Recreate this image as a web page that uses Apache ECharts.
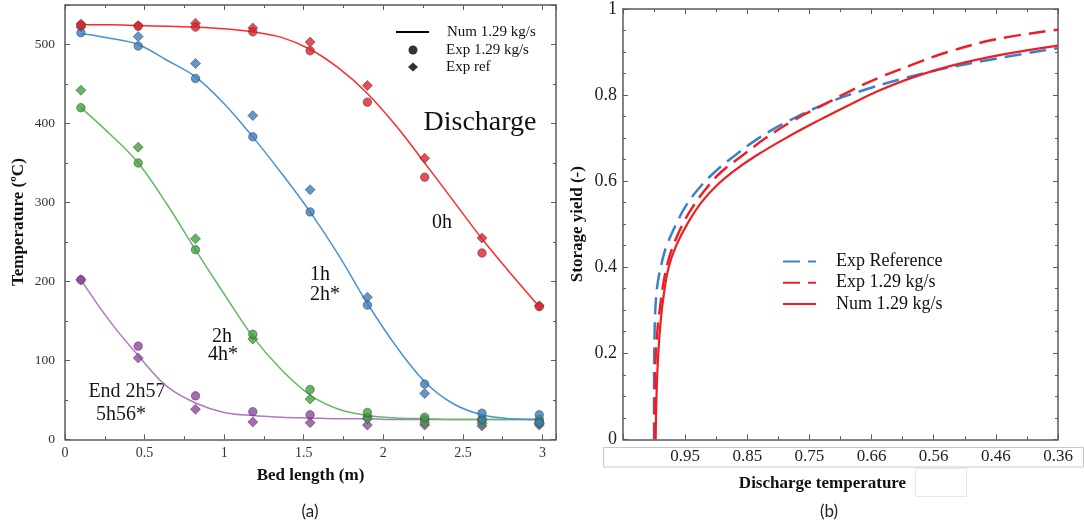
<!DOCTYPE html>
<html><head><meta charset="utf-8">
<script src="https://cdn.jsdelivr.net/npm/echarts@6/dist/echarts.min.js"></script>
<style>html,body{margin:0;padding:0;background:#fff}#c{width:1084px;height:528px}</style>
</head><body><div id="c"></div>
<script>
// ---------- (a) temperature profiles ----------
const bedX = [0.1, 0.46, 0.82, 1.18, 1.54, 1.9, 2.26, 2.62, 2.98];
const exp0h  = [524, 523, 522, 516, 492, 427, 332, 236, 168];
const ref0h  = [526, 524, 527, 521, 503, 448, 356, 255, 169];
const exp1h  = [515, 498, 457, 383, 288, 170, 70, 33, 31];
const ref1h  = [522, 510, 476, 410, 316, 180, 58, 25, 21];
const exp2h  = [420, 350, 240, 133, 63, 34, 28, 26, 25];
const ref2h  = [442, 370, 254, 127, 51, 26, 21, 20, 20];
const expEnd = [202, 118, 55, 35, 31, 28, 25, 23, 23];
const refEnd = [202, 103, 38, 22, 21, 18, 18, 17, 18];

const numX   = [0.1, 0.28, 0.46, 0.64, 0.82, 1.0, 1.18, 1.36, 1.54, 1.72, 1.9, 2.08, 2.26, 2.44, 2.62, 2.8, 2.98];
const num0h  = [525, 525, 524, 523, 522, 520, 516, 509, 494, 470, 438, 397, 350, 302, 254, 210, 168];
const num1h  = [514, 508, 500, 480, 459, 425, 383, 337, 288, 233, 172, 118, 73, 45, 31, 26, 25];
const num2h  = [420, 387, 350, 298, 240, 184, 130, 88, 56, 38, 30, 27, 26, 25, 25, 25, 25];
const numEnd = [202, 150, 106, 67, 46, 34, 30, 28, 27, 26, 26, 25, 25, 25, 25, 25, 25];

const bedTicks  = ['0', '0.5', '1', '1.5', '2', '2.5', '3'];
const tempTicks = ['0', '100', '200', '300', '400', '500'];

// ---------- (b) storage yield (x = tick position 0..7 along the axis) ----------
const yTicksB = ['0', '0.2', '0.4', '0.6', '0.8', '1'];
const dischargeTicks = ['', '0.95', '0.85', '0.75', '0.66', '0.56', '0.46', '0.36'];
const refPos   = [0.499, 0.500, 0.509, 0.523, 0.555, 0.623, 0.703, 0.856, 1.001, 1.202, 1.468, 1.806, 2.184, 2.667, 3.262, 3.842, 4.550, 5.451, 7.0];
const refYield = [0, 0.15, 0.25, 0.31, 0.36, 0.41, 0.45, 0.50, 0.54, 0.58, 0.62, 0.66, 0.70, 0.74, 0.78, 0.81, 0.84, 0.87, 0.909];
const expPos   = [0.510, 0.517, 0.552, 0.599, 0.647, 0.719, 0.808, 0.961, 1.122, 1.323, 1.572, 1.926, 2.296, 2.730, 3.261, 3.663, 4.114, 4.645, 5.225, 6.014, 7.0];
const expYield = [0, 0.15, 0.25, 0.31, 0.36, 0.41, 0.45, 0.50, 0.54, 0.58, 0.62, 0.66, 0.70, 0.74, 0.78, 0.81, 0.84, 0.87, 0.90, 0.93, 0.952];
const numPos   = [0.526, 0.539, 0.568, 0.610, 0.660, 0.735, 0.856, 1.033, 1.258, 1.508, 1.798, 2.152, 2.619, 3.134, 3.681, 4.115, 4.645, 5.337, 6.141, 7.0];
const numYield = [0, 0.10, 0.20, 0.28, 0.34, 0.40, 0.45, 0.50, 0.55, 0.59, 0.625, 0.66, 0.70, 0.74, 0.78, 0.81, 0.84, 0.87, 0.895, 0.915];

const SERIF = "'Liberation Serif', 'Times New Roman', serif";
const zip = (xs, ys) => xs.map((x, i) => [x, ys[i]]);
const tickFmt = (arr, step) => v => {
  const i = Math.round(v / step);
  return Math.abs(v - i * step) < 1e-6 && i < arr.length ? arr[i] : '';
};

const axisCol = '#5a5a5a';
function axis(base, opts) {
  return Object.assign({
    type: 'value',
    splitLine: { show: false },
    minorSplitLine: { show: false },
    axisLine: { show: true, onZero: false, lineStyle: { color: axisCol, width: 1.5 } },
    axisTick: { show: true, inside: true, length: 5, lineStyle: { color: axisCol, width: 1 } },
  }, base, opts);
}
const noLabel = { axisLabel: { show: false } };

const chart = echarts.init(document.getElementById('c'));

const colors = {
  red:    { line: '#ff2b2b', mark: '#e0222a' },
  blue:   { line: '#4a92d2', mark: '#3a7dbe' },
  green:  { line: '#62bb60', mark: '#3fa23f' },
  purple: { line: '#b475c4', mark: '#8e46a0' },
};
const groups = [
  { c: colors.purple, num: numEnd, exp: expEnd, ref: refEnd },
  { c: colors.green,  num: num2h,  exp: exp2h,  ref: ref2h },
  { c: colors.blue,   num: num1h,  exp: exp1h,  ref: ref1h },
  { c: colors.red,    num: num0h,  exp: exp0h,  ref: ref0h },
];

const series = [];
groups.forEach(g => {
  series.push({ type: 'line', xAxisIndex: 0, yAxisIndex: 0, data: zip(numX, g.num), smooth: 0.35,
    symbol: 'none', silent: true, z: 2, lineStyle: { color: g.c.line, width: 1.5 } });
});
groups.forEach(g => {
  series.push({ type: 'scatter', xAxisIndex: 0, yAxisIndex: 0, data: zip(bedX, g.ref), symbol: 'diamond',
    symbolSize: 10, z: 3, itemStyle: { color: g.c.mark, borderColor: '#333', borderWidth: 0.6 } });
  series.push({ type: 'scatter', xAxisIndex: 0, yAxisIndex: 0, data: zip(bedX, g.exp), symbol: 'circle',
    symbolSize: 8.5, z: 3, itemStyle: { color: g.c.mark, borderColor: '#333', borderWidth: 0.6 } });
});
// legend-only entries for (a)
series.push({ name: 'a:Num 1.29 kg/s', type: 'line', xAxisIndex: 0, yAxisIndex: 0, data: [], symbol: 'none',
  lineStyle: { color: '#000', width: 1.5 }, itemStyle: { color: '#000' } });
series.push({ name: 'a:Exp 1.29 kg/s', type: 'scatter', xAxisIndex: 0, yAxisIndex: 0, data: [], symbol: 'circle',
  itemStyle: { color: '#000' } });
series.push({ name: 'a:Exp ref', type: 'scatter', xAxisIndex: 0, yAxisIndex: 0, data: [], symbol: 'diamond',
  itemStyle: { color: '#000' } });

// (b) curves
const BLUE = '#3b82c4', RED = '#ec1f27';
series.push({ name: 'b:Exp Reference', type: 'line', xAxisIndex: 2, yAxisIndex: 2, data: zip(refPos, refYield),
  smooth: 0.4, symbol: 'none', z: 2, lineStyle: { color: BLUE, width: 2.5, type: [17, 8] }, itemStyle: { color: BLUE } });
series.push({ name: 'b:Exp 1.29 kg/s', type: 'line', xAxisIndex: 2, yAxisIndex: 2, data: zip(expPos, expYield),
  smooth: 0.4, symbol: 'none', z: 3, lineStyle: { color: RED, width: 2.5, type: [17, 8] }, itemStyle: { color: RED } });
series.push({ name: 'b:Num 1.29 kg/s', type: 'line', xAxisIndex: 2, yAxisIndex: 2, data: zip(numPos, numYield),
  smooth: 0.4, symbol: 'none', z: 4, lineStyle: { color: RED, width: 2.2 }, itemStyle: { color: RED } });

const stripFmt = n => n.slice(2);

const mt = n => ({ show: true, splitNumber: n, length: 3, lineStyle: { color: axisCol } });
const xA = { min: 0, max: 3.085, interval: 0.5, minorTick: mt(2) };
const yA = { min: 0, max: 550, interval: 100, minorTick: mt(2) };
const xB = { min: 0, max: 7, interval: 1, minorTick: mt(2) };
const yB = { min: 0, max: 1, interval: 0.2, minorTick: mt(4) };

const legendText = size => ({ fontFamily: SERIF, fontSize: size, color: '#111' });

const option = {
  animation: false,
  backgroundColor: '#fff',
  grid: [
    { left: 65, top: 5, width: 491, height: 434.3 },
    { left: 623, top: 9, width: 435, height: 430.3 },
  ],
  xAxis: [
    axis(xA, { gridIndex: 0, position: 'bottom',
      name: 'Bed length (m)', nameLocation: 'middle', nameGap: 28,
      nameTextStyle: { fontFamily: SERIF, fontSize: 17, fontWeight: 'bold', color: '#111' },
      axisLabel: { show: true, fontFamily: SERIF, fontSize: 14, color: '#333', margin: 7,
        showMaxLabel: false, formatter: tickFmt(bedTicks, 0.5) } }),
    axis(xA, Object.assign({ gridIndex: 0, position: 'top' }, noLabel)),
    axis(xB, { gridIndex: 1, position: 'bottom',
      name: 'Discharge temperature', nameLocation: 'middle', nameGap: 36,
      nameTextStyle: { fontFamily: SERIF, fontSize: 17, fontWeight: 'bold', color: '#111', padding: [0, 36, 0, 0] },
      axisLabel: { show: true, fontFamily: SERIF, fontSize: 17, color: '#222', margin: 9,
        formatter: tickFmt(dischargeTicks, 1) } }),
    axis(xB, Object.assign({ gridIndex: 1, position: 'top' }, noLabel)),
  ],
  yAxis: [
    axis(yA, { gridIndex: 0, position: 'left',
      name: 'Temperature (ºC)', nameLocation: 'middle', nameGap: 38,
      nameTextStyle: { fontFamily: SERIF, fontSize: 17, fontWeight: 'bold', color: '#111' },
      axisLabel: { show: true, fontFamily: SERIF, fontSize: 13.5, color: '#333', margin: 10,
        showMaxLabel: false, formatter: tickFmt(tempTicks, 100) } }),
    axis(yA, Object.assign({ gridIndex: 0, position: 'right' }, noLabel)),
    axis(yB, { gridIndex: 1, position: 'left',
      name: 'Storage yield (-)', nameLocation: 'middle', nameGap: 37,
      nameTextStyle: { fontFamily: SERIF, fontSize: 17, fontWeight: 'bold', color: '#111' },
      axisLabel: { show: true, fontFamily: SERIF, fontSize: 18, color: '#222', margin: 6,
        formatter: tickFmt(yTicksB, 0.2) } }),
    axis(yB, Object.assign({ gridIndex: 1, position: 'right' }, noLabel)),
  ],
  legend: [
    { data: ['a:Num 1.29 kg/s'], left: 395, top: 24.5, padding: 0, itemWidth: 33, itemHeight: 14,
      itemStyle: { opacity: 0 }, formatter: stripFmt, selectedMode: false,
      textStyle: Object.assign(legendText(15), { padding: [0, 0, 0, 13] }) },
    { data: [{ name: 'a:Exp 1.29 kg/s', icon: 'circle' }, { name: 'a:Exp ref', icon: 'diamond' }],
      orient: 'vertical', left: 408, top: 42.5, padding: 0, itemWidth: 10, itemHeight: 9, itemGap: 2,
      formatter: stripFmt, selectedMode: false,
      textStyle: Object.assign(legendText(15), { padding: [0, 0, 0, 23] }) },
    { data: ['b:Exp Reference', 'b:Exp 1.29 kg/s', 'b:Num 1.29 kg/s'],
      orient: 'vertical', left: 782, top: 252.5, padding: 0, itemWidth: 33, itemHeight: 14, itemGap: 3.2,
      itemStyle: { opacity: 0 }, formatter: stripFmt, selectedMode: false,
      textStyle: Object.assign(legendText(18), { padding: [0, 0, 0, 15] }) },
  ],
  graphic: [
    { type: 'text', x: 480, y: 123, style: { text: 'Discharge', font: '28px ' + SERIF, fill: '#111', align: 'center', verticalAlign: 'middle' } },
    { type: 'text', x: 442, y: 223, style: { text: '0h', font: '20px ' + SERIF, fill: '#111', align: 'center', verticalAlign: 'middle' } },
    { type: 'text', x: 310, y: 275, style: { text: '1h', font: '20px ' + SERIF, fill: '#111', align: 'left', verticalAlign: 'middle' } },
    { type: 'text', x: 310, y: 295, style: { text: '2h*', font: '20px ' + SERIF, fill: '#111', align: 'left', verticalAlign: 'middle' } },
    { type: 'text', x: 222, y: 337, style: { text: '2h', font: '20px ' + SERIF, fill: '#111', align: 'center', verticalAlign: 'middle' } },
    { type: 'text', x: 223, y: 355, style: { text: '4h*', font: '20px ' + SERIF, fill: '#111', align: 'center', verticalAlign: 'middle' } },
    { type: 'text', x: 127, y: 392, style: { text: 'End 2h57', font: '20px ' + SERIF, fill: '#1a1a1a', align: 'center', verticalAlign: 'middle' } },
    { type: 'text', x: 121, y: 415, style: { text: '5h56*', font: '20px ' + SERIF, fill: '#1a1a1a', align: 'center', verticalAlign: 'middle' } },
    { type: 'rect', shape: { x: 603.5, y: 447.5, width: 480, height: 19.5 }, style: { fill: 'none', stroke: '#c8c8c8', lineWidth: 1 }, z: -1 },
    { type: 'rect', shape: { x: 915.5, y: 468.5, width: 51, height: 28 }, style: { fill: 'none', stroke: '#e6e6e6', lineWidth: 1 }, z: -1 },
    { type: 'text', x: 310, y: 512, style: { text: '(a)', font: "17px Lato, 'Open Sans', sans-serif", fill: '#222', align: 'center', verticalAlign: 'middle' } },
    { type: 'text', x: 829, y: 512, style: { text: '(b)', font: "17px Lato, 'Open Sans', sans-serif", fill: '#222', align: 'center', verticalAlign: 'middle' } },
  ],
  series: series,
};
chart.setOption(option);
</script>
</body></html>
